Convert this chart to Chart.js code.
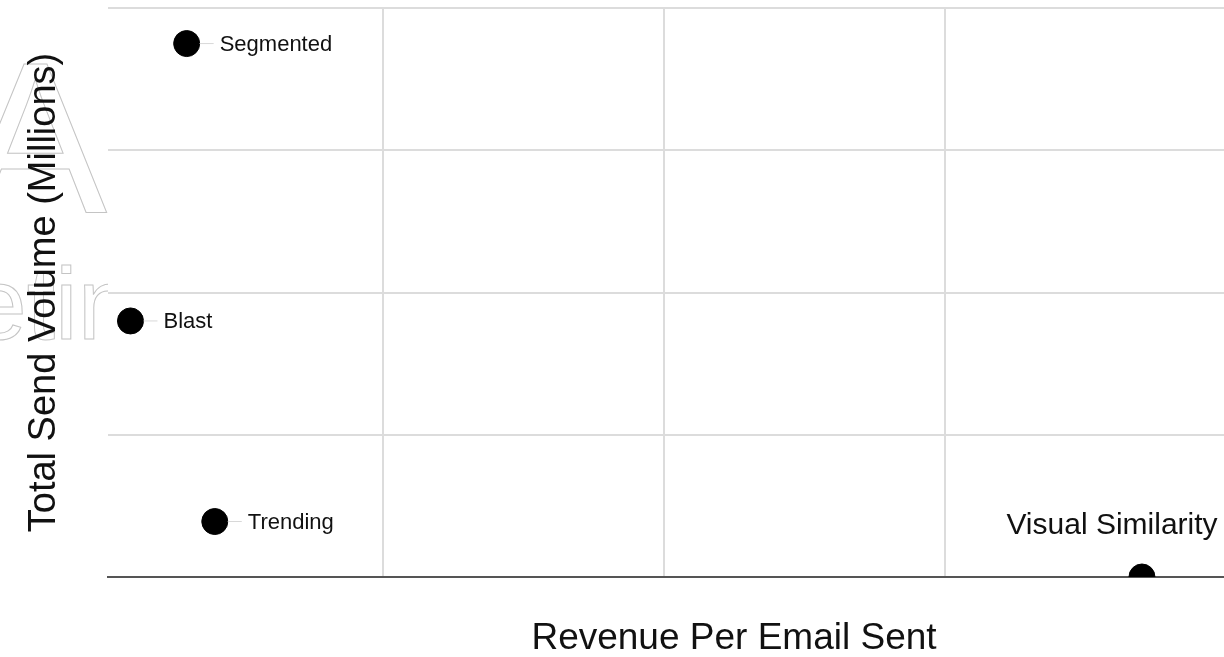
<!DOCTYPE html>
<html>
<head>
<meta charset="utf-8">
<script src="https://cdn.jsdelivr.net/npm/chart.js@4"></script>
<style>
  html, body { margin: 0; padding: 0; background: #fff; overflow: hidden; }
  #wrap { width: 1224px; height: 657px; overflow: hidden; }
</style>
</head>
<body>
<div id="wrap"><canvas id="myChart" width="1360" height="657"></canvas></div>
<script>
// data
const pointNames = ['Segmented', 'Blast', 'Trending', 'Visual Similarity'];
const revenuePerEmail = [0.30, 0.10, 0.40, 3.70];
const sendVolume = [3.75, 1.80, 0.39, 0];
const xGridValues = [1, 2, 3, 4];
const yGridValues = [0, 1, 2, 3, 4];

const FONT = '"Liberation Sans", Arial, Helvetica, sans-serif';

// faint outlined lettering behind the plot
const watermark = {
    id: 'watermark',
    beforeDraw(chart) {
        const ctx = chart.ctx;
        const area = chart.chartArea;
        ctx.save();
        ctx.strokeStyle = '#c4c4c4';
        ctx.lineWidth = 1;
        ctx.font = '216px ' + FONT;
        ctx.textBaseline = 'alphabetic';
        ctx.strokeText('A', -37, 212);
        ctx.font = '102px ' + FONT;
        ctx.strokeText('eting', -30, 339);
        // plot area is white and hides the rest
        ctx.fillStyle = '#fff';
        ctx.fillRect(area.left, area.top, area.right - area.left, area.bottom - area.top);
        ctx.restore();
    }
};

// labels next to the dots
const pointLabels = {
    id: 'pointLabels',
    afterDatasetsDraw(chart) {
        const ctx = chart.ctx;
        const meta = chart.getDatasetMeta(0);
        ctx.save();
        meta.data.forEach((pt, i) => {
            const name = pointNames[i];
            if (i === 3) {
                // big label above the point
                ctx.font = '30px ' + FONT;
                ctx.fillStyle = '#111';
                ctx.textAlign = 'center';
                ctx.textBaseline = 'alphabetic';
                ctx.fillText(name, pt.x - 30, pt.y - 43);
            } else {
                ctx.strokeStyle = '#d8d8d8';
                ctx.lineWidth = 1;
                ctx.beginPath();
                ctx.moveTo(pt.x + 13, pt.y);
                ctx.lineTo(pt.x + 27, pt.y);
                ctx.stroke();
                ctx.font = '22px ' + FONT;
                ctx.fillStyle = '#111';
                ctx.textAlign = 'left';
                ctx.textBaseline = 'middle';
                ctx.fillText(name, pt.x + 33, pt.y + 1);
            }
        });
        ctx.restore();
    }
};

const ctx = document.getElementById('myChart');
const chart = new Chart(ctx, {
    type: 'scatter',
    data: {
        datasets: [{
            data: revenuePerEmail.map((x, i) => ({ x: x, y: sendVolume[i] })),
            backgroundColor: '#000',
            borderColor: '#000',
            pointRadius: 13,
            pointHoverRadius: 13,
            clip: 0
        }]
    },
    options: {
        responsive: false,
        animation: false,
        devicePixelRatio: 1,
        layout: { autoPadding: false, padding: { top: 8, right: 0, left: 0, bottom: 0 } },
        plugins: {
            legend: { display: false },
            tooltip: { enabled: false }
        },
        scales: {
            x: {
                type: 'linear',
                min: 0.02,
                max: 4.476,
                z: 1,
                afterBuildTicks: (scale) => { scale.ticks = xGridValues.map(v => ({ value: v })); },
                afterFit: (scale) => { scale.height = 80; },
                ticks: { display: false },
                grid: { color: '#dcdcdc', lineWidth: 2, drawTicks: false, tickLength: 0 },
                border: { display: true, color: '#555', width: 2 },
                title: {
                    display: true,
                    text: 'Revenue Per Email Sent',
                    color: '#111',
                    font: { family: FONT, size: 37, lineHeight: 1 },
                    padding: 0
                }
            },
            y: {
                type: 'linear',
                min: 0,
                max: 4,
                afterBuildTicks: (scale) => { scale.ticks = yGridValues.map(v => ({ value: v })); },
                afterFit: (scale) => { scale.width = 108; },
                ticks: { display: false },
                grid: { color: '#dcdcdc', lineWidth: 2, drawTicks: false, tickLength: 0 },
                border: { display: false },
                title: {
                    display: true,
                    text: 'Total Send Volume (Millions)',
                    color: '#111',
                    font: { family: FONT, size: 38, lineHeight: 1 },
                    padding: { top: 26, bottom: 0 }
                }
            }
        }
    },
    plugins: [watermark, pointLabels]
});
</script>
</body>
</html>
